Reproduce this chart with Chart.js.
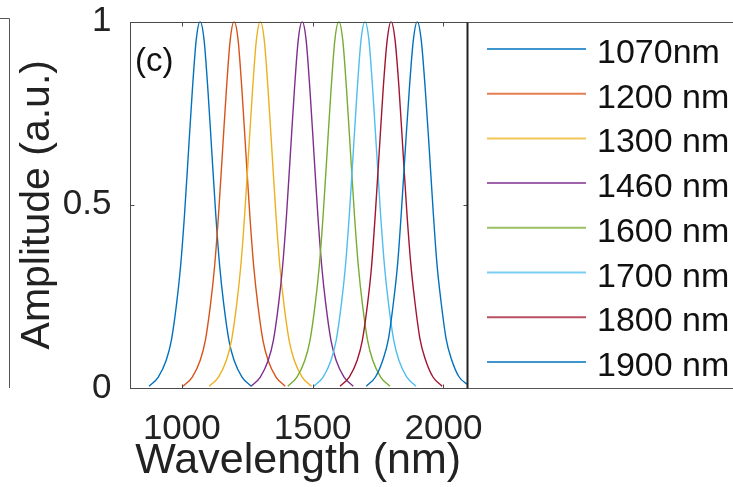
<!DOCTYPE html>
<html>
<head>
<meta charset="utf-8">
<script src="https://cdn.jsdelivr.net/npm/chart.js@4.4.0/dist/chart.umd.min.js"></script>
<style>
  html, body { margin: 0; padding: 0; background: #fff; }
  #wrap { position: relative; width: 733px; height: 487px; }
</style>
</head>
<body>
<div id="wrap"><canvas id="spectra" width="733" height="487"></canvas></div>
<script>
// ── Pulse spectra, one per centre wavelength ──
const centresNm = [1070, 1200, 1300, 1460, 1600, 1700, 1800, 1900];
const seriesLabels = ['1070nm', '1200 nm', '1300 nm', '1460 nm', '1600 nm', '1700 nm', '1800 nm', '1900 nm'];
const seriesColors = ['#0072BD', '#D95319', '#EDB120', '#7E2F8E', '#77AC30', '#4DBEEE', '#A2142F', '#0072BD'];

// sample positions, nm either side of each centre
const offsetsNm = [-195, -160, -130, -110, -90, -75, -60, -45, -30, -15, 0, 15, 30, 45, 60, 75, 90, 110, 130, 160, 195];

const amp1070 = [0.005, 0.03, 0.075, 0.13, 0.23, 0.33, 0.47, 0.64, 0.81, 0.95, 1, 0.95, 0.81, 0.64, 0.47, 0.33, 0.23, 0.13, 0.075, 0.03, 0.005];
const amp1200 = [0.005, 0.03, 0.075, 0.13, 0.23, 0.33, 0.47, 0.64, 0.81, 0.95, 1, 0.95, 0.81, 0.64, 0.47, 0.33, 0.23, 0.13, 0.075, 0.03, 0.005];
const amp1300 = [0.005, 0.03, 0.075, 0.13, 0.23, 0.33, 0.47, 0.64, 0.81, 0.95, 1, 0.95, 0.81, 0.64, 0.47, 0.33, 0.23, 0.13, 0.075, 0.03, 0.005];
const amp1460 = [0.005, 0.03, 0.075, 0.13, 0.23, 0.33, 0.47, 0.64, 0.81, 0.95, 1, 0.95, 0.81, 0.64, 0.47, 0.33, 0.23, 0.13, 0.075, 0.03, 0.005];
const amp1600 = [0.005, 0.03, 0.075, 0.13, 0.23, 0.33, 0.47, 0.64, 0.81, 0.95, 1, 0.95, 0.81, 0.64, 0.47, 0.33, 0.23, 0.13, 0.075, 0.03, 0.005];
const amp1700 = [0.005, 0.03, 0.075, 0.13, 0.23, 0.33, 0.47, 0.64, 0.81, 0.95, 1, 0.95, 0.81, 0.64, 0.47, 0.33, 0.23, 0.13, 0.075, 0.03, 0.005];
const amp1800 = [0.005, 0.03, 0.075, 0.13, 0.23, 0.33, 0.48, 0.65, 0.82, 0.95, 1, 0.95, 0.82, 0.65, 0.48, 0.34, 0.24, 0.135, 0.08, 0.03, 0.005];
const amp1900 = [0.005, 0.03, 0.08, 0.135, 0.24, 0.34, 0.49, 0.66, 0.82, 0.95, 1, 0.95, 0.82, 0.66, 0.49, 0.34, 0.24, 0.135, 0.08, 0.03, 0.008];
const amplitudes = [amp1070, amp1200, amp1300, amp1460, amp1600, amp1700, amp1800, amp1900];

const xTicks = [1000, 1500, 2000];
const yTicks = [0, 0.5, 1];
const xRange = [800, 2090];

const FONT = '"Liberation Sans", Arial, Helvetica, sans-serif';
const INK = '#222';

const datasets = centresNm.map((c, i) => ({
    label: seriesLabels[i],
    data: offsetsNm.map((o, k) => ({ x: c + o, y: amplitudes[i][k] })),
    borderColor: seriesColors[i],
    borderWidth: 1.4,
    pointRadius: 0,
    cubicInterpolationMode: 'monotone',
    fill: false,
    order: centresNm.length - i,   // later spectra on top
}));

// Box, inward ticks, legend panel and panel letter
const frame = {
    id: 'frame',
    afterDatasetsDraw(chart) {
        const { ctx, chartArea: a, scales: { x, y } } = chart;
        const L = Math.round(a.left) + 0.5, R = Math.round(a.right) + 0.5;
        const T = Math.round(a.top) + 0.5, B = Math.round(a.bottom) + 0.5;
        ctx.save();
        ctx.strokeStyle = '#4a4a4a';
        ctx.lineWidth = 1;
        ctx.strokeRect(L, T, R - L, B - T);

        ctx.beginPath();
        xTicks.forEach(v => {
            const px = Math.round(x.getPixelForValue(v)) + 0.5;
            ctx.moveTo(px, B); ctx.lineTo(px, B - 4);
            ctx.moveTo(px, T); ctx.lineTo(px, T + 4);
        });
        yTicks.forEach(v => {
            const py = Math.round(y.getPixelForValue(v)) + 0.5;
            ctx.moveTo(L, py); ctx.lineTo(L + 4, py);
            ctx.moveTo(R, py); ctx.lineTo(R - 4, py);
        });
        ctx.stroke();
        ctx.restore();
    },
    afterDraw(chart) {
        const { ctx, chartArea: a } = chart;
        const T = Math.round(a.top) + 0.5, B = Math.round(a.bottom) + 0.5;
        const R = Math.round(a.right) + 0.5;
        ctx.save();

        // legend box, open on the right
        ctx.strokeStyle = '#555';
        ctx.lineWidth = 1;
        ctx.beginPath();
        ctx.moveTo(chart.width, T); ctx.lineTo(R, T); ctx.lineTo(R, B); ctx.lineTo(chart.width, B);
        ctx.stroke();
        ctx.strokeStyle = '#222';
        ctx.lineWidth = 2;
        ctx.beginPath();
        ctx.moveTo(R, T); ctx.lineTo(R, B);
        ctx.stroke();

        ctx.font = '34px ' + FONT;
        ctx.textAlign = 'left';
        ctx.textBaseline = 'alphabetic';
        chart.data.datasets.forEach((ds, i) => {
            const rowY = 49 + i * 44.7;
            ctx.strokeStyle = ds.borderColor;
            ctx.globalAlpha = 0.75;
            ctx.lineWidth = 2;
            ctx.beginPath();
            ctx.moveTo(487, rowY); ctx.lineTo(586, rowY);
            ctx.stroke();
            ctx.globalAlpha = 1;
            ctx.fillStyle = '#111';
            ctx.fillText(ds.label, 597, rowY + 14);
        });

        // panel letter
        ctx.fillStyle = '#111';
        ctx.font = '33px ' + FONT;
        ctx.fillText('(c)', 135, 71);

        // edge of the neighbouring panel
        ctx.strokeStyle = '#555';
        ctx.lineWidth = 1;
        ctx.beginPath();
        ctx.moveTo(0, 18.5); ctx.lineTo(9.5, 18.5); ctx.lineTo(9.5, 388);
        ctx.stroke();
        ctx.restore();
    }
};

new Chart(document.getElementById('spectra'), {
    type: 'line',
    data: { datasets },
    options: {
        responsive: false,
        animation: false,
        devicePixelRatio: 1,
        layout: { autoPadding: false, padding: { left: 0, right: 266, top: 21.5, bottom: 0 } },
        plugins: { legend: { display: false }, tooltip: { enabled: false } },
        scales: {
            x: {
                type: 'linear',
                min: xRange[0],
                max: xRange[1],
                afterBuildTicks: s => { s.ticks = xTicks.map(v => ({ value: v })); },
                afterFit: s => { s.height = 99; s.paddingLeft = 0; s.paddingRight = 0; },
                grid: { display: false, drawTicks: false },
                border: { display: false },
                ticks: {
                    padding: 20,
                    color: INK,
                    font: { family: FONT, size: 35 },
                    maxRotation: 0,
                    callback: v => String(v),
                },
                title: {
                    display: true,
                    text: 'Wavelength (nm)',
                    color: INK,
                    font: { family: FONT, size: 43 },
                    padding: { top: 0, bottom: 0 },
                },
            },
            y: {
                min: 0,
                max: 1,
                afterBuildTicks: s => { s.ticks = yTicks.map(v => ({ value: v })); },
                afterFit: s => { s.width = 129.5; s.paddingTop = 0; s.paddingBottom = 0; },
                grid: { display: false, drawTicks: false },
                border: { display: false },
                ticks: {
                    padding: 18,
                    color: INK,
                    font: { family: FONT, size: 35 },
                    callback: v => String(v),
                },
                title: {
                    display: true,
                    text: 'Amplitude (a.u.)',
                    color: INK,
                    font: { family: FONT, size: 41 },
                    padding: { top: 13, bottom: 0 },
                },
            },
        },
    },
    plugins: [frame],
});
</script>
</body>
</html>
